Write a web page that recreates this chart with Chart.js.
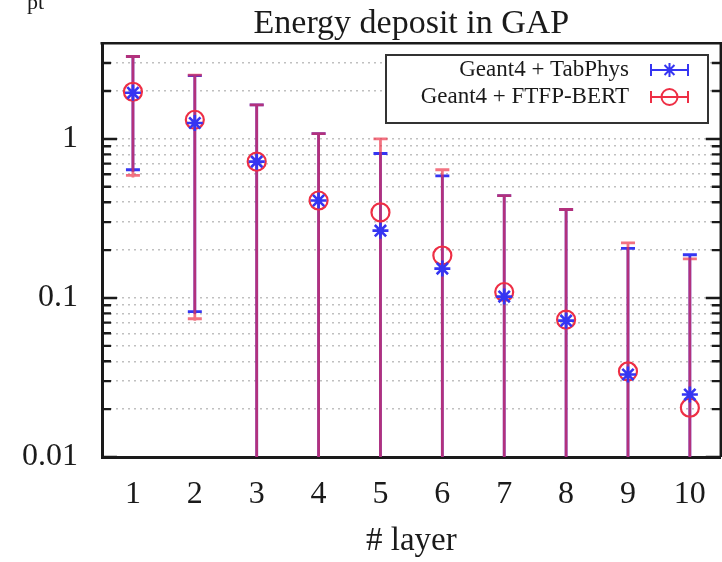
<!DOCTYPE html>
<html>
<head>
<meta charset="utf-8">
<title>Energy deposit in GAP</title>
<script src="https://cdn.jsdelivr.net/npm/chart.js@4.4.0/dist/chart.umd.min.js"></script>
<style>
  html, body { margin: 0; padding: 0; background: #fff; overflow: hidden; }
  #wrap { width: 722px; height: 562px; overflow: hidden; position: relative; }
  canvas { display: block; }
</style>
</head>
<body>
<div id="wrap"><canvas id="gapChart" width="732" height="562"></canvas></div>
<script>
(() => {
  'use strict';

  // Layers and mean energy deposit per layer (with error bar ends)
  const layers = [1, 2, 3, 4, 5, 6, 7, 8, 9, 10];

  const tabPhys     = [1.95, 1.26, 0.72, 0.41, 0.265, 0.153, 0.102, 0.072, 0.033, 0.0247];
  const tabPhysHigh = [3.3, 2.5, 1.64, 1.08, 0.81, 0.585, 0.44, 0.36, 0.205, 0.187];
  const tabPhysLow  = [0.64, 0.082, 0, 0, 0, 0, 0, 0, 0, 0];

  const ftfp     = [1.98, 1.32, 0.72, 0.41, 0.345, 0.185, 0.109, 0.073, 0.0345, 0.0204];
  const ftfpHigh = [3.3, 2.52, 1.64, 1.08, 1.0, 0.64, 0.44, 0.36, 0.222, 0.176];
  const ftfpLow  = [0.59, 0.074, 0, 0, 0, 0, 0, 0, 0, 0];

  const yTicks = [0.01, 0.02, 0.03, 0.04, 0.05, 0.06, 0.07, 0.08, 0.09,
                  0.1, 0.2, 0.3, 0.4, 0.5, 0.6, 0.7, 0.8, 0.9,
                  1, 2, 3];
  const yDecades = [0.01, 0.1, 1];

  const BLUE = '#3535f2';
  const RED = '#ee2f45';
  const INK = '#1a1a1a';
  const SERIF = '"Liberation Serif", "DejaVu Serif", serif';

  const points = (vals) => layers.map((x, i) => ({ x, y: vals[i] }));

  // vertical error bars with caps, drawn under the markers
  const errorBars = {
    id: 'errorBars',
    beforeDatasetsDraw(chart) {
      const { ctx, chartArea, scales: { x, y } } = chart;
      ctx.save();
      ctx.beginPath();
      ctx.rect(chartArea.left, chartArea.top, chartArea.right - chartArea.left, chartArea.bottom - chartArea.top);
      ctx.clip();
      ctx.lineWidth = 2.8;
      chart.data.datasets.forEach((ds) => {
        ctx.strokeStyle = ds.borderColor;
        ctx.globalAlpha = ds.barAlpha;
        ds.data.forEach((p, i) => {
          const px = x.getPixelForValue(p.x);
          const hi = y.getPixelForValue(ds.errHigh[i]);
          const lo = y.getPixelForValue(Math.max(ds.errLow[i], y.min));
          ctx.beginPath();
          ctx.moveTo(px, hi);
          ctx.lineTo(px, lo + 2);
          ctx.moveTo(px - 7, hi);
          ctx.lineTo(px + 7, hi);
          if (ds.errLow[i] > y.min) {
            ctx.moveTo(px - 7, lo);
            ctx.lineTo(px + 7, lo);
          }
          ctx.stroke();
        });
      });
      ctx.restore();
    }
  };

  // top frame line, inward ticks on both sides, key box and title
  const frame = {
    id: 'frame',
    afterDatasetsDraw(chart) {
      const { ctx, chartArea, scales: { y } } = chart;
      const { left, right, top } = chartArea;
      ctx.save();
      ctx.strokeStyle = INK;
      ctx.lineWidth = 2.5;
      ctx.beginPath();
      ctx.moveTo(left - 1.5, top);
      ctx.lineTo(right, top);
      ctx.lineTo(right, chartArea.bottom);
      ctx.stroke();

      ctx.lineWidth = 2.4;
      yTicks.forEach((v) => {
        const py = y.getPixelForValue(v);
        const len = yDecades.includes(v) ? 15 : 9;
        ctx.beginPath();
        ctx.moveTo(left, py);
        ctx.lineTo(left + len, py);
        ctx.moveTo(right, py);
        ctx.lineTo(right - len, py);
        ctx.stroke();
      });

      // key
      const box = { x: 386, y: 55, w: 322, h: 68 };
      ctx.fillStyle = '#fff';
      ctx.fillRect(box.x, box.y, box.w, box.h);
      ctx.strokeStyle = '#333';
      ctx.lineWidth = 2;
      ctx.strokeRect(box.x, box.y, box.w, box.h);

      ctx.font = '23px ' + SERIF;
      ctx.textAlign = 'right';
      ctx.textBaseline = 'middle';
      chart.data.datasets.forEach((ds, i) => {
        const ry = 70 + i * 27;
        ctx.fillStyle = INK;
        ctx.fillText(ds.label, 629, ry);
        ctx.strokeStyle = ds.borderColor;
        ctx.lineWidth = 2;
        ctx.beginPath();
        ctx.moveTo(651, ry);
        ctx.lineTo(688, ry);
        ctx.moveTo(651, ry - 6);
        ctx.lineTo(651, ry + 6);
        ctx.moveTo(688, ry - 6);
        ctx.lineTo(688, ry + 6);
        ctx.stroke();
        ctx.fillStyle = ds.backgroundColor;
        Chart.helpers.drawPoint(ctx, {
          pointStyle: ds.pointStyle,
          radius: ds.pointRadius - 1,
          borderWidth: ds.pointBorderWidth
        }, 669.5, ry);
      });
      ctx.restore();
    },
    afterDraw(chart) {
      const { ctx, chartArea } = chart;
      ctx.save();
      ctx.fillStyle = INK;
      ctx.textAlign = 'center';
      ctx.textBaseline = 'alphabetic';
      ctx.font = '34px ' + SERIF;
      ctx.fillText('Energy deposit in GAP', (chartArea.left + chartArea.right) / 2, 33);

      // axis label from the panel above, mostly cut off by the top edge
      ctx.textAlign = 'left';
      ctx.font = '33px ' + SERIF;
      ctx.fillText('E', 0, -1);
      ctx.font = '22px ' + SERIF;
      ctx.fillText('pt', 27, 9);
      ctx.font = '33px ' + SERIF;
      ctx.fillText('~ 50', 62, -1);
      ctx.restore();
    }
  };

  const tickFont = { family: SERIF, size: 32 };

  new Chart(document.getElementById('gapChart'), {
    type: 'scatter',
    data: {
      datasets: [
        {
          label: 'Geant4 + TabPhys',
          data: points(tabPhys),
          errHigh: tabPhysHigh,
          errLow: tabPhysLow,
          barAlpha: 1,
          borderColor: BLUE,
          backgroundColor: BLUE,
          pointStyle: 'star',
          pointRadius: 8,
          pointBorderWidth: 2.6,
        },
        {
          label: 'Geant4 + FTFP-BERT',
          data: points(ftfp),
          errHigh: ftfpHigh,
          errLow: ftfpLow,
          barAlpha: 0.68,
          borderColor: RED,
          backgroundColor: 'rgba(0,0,0,0)',
          pointStyle: 'circle',
          pointRadius: 9,
          pointBorderWidth: 2.2,
        },
      ],
    },
    options: {
      responsive: false,
      animation: false,
      events: [],
      layout: { padding: { top: 40, right: 6, left: 0, bottom: 0 } },
      plugins: {
        legend: { display: false },
        tooltip: { enabled: false },
      },
      scales: {
        x: {
          type: 'linear',
          min: 0.5,
          max: 10.5,
          afterBuildTicks: (s) => { s.ticks = layers.map((v) => ({ value: v })); },
          afterFit: (s) => {
            s.height = 105;
            // the last label may run past the edge, keep the plot width fixed
            s.paddingLeft = 0;
            s.paddingRight = 0;
          },
          grid: { display: false, drawTicks: false },
          border: { display: true, color: INK, width: 3 },
          ticks: { font: tickFont, color: INK, padding: 18, autoSkip: false },
          title: {
            display: true,
            text: '# layer',
            font: { family: SERIF, size: 33 },
            color: INK,
            padding: { top: 0, bottom: 1 },
          },
        },
        y: {
          type: 'logarithmic',
          min: 0.01,
          max: 4,
          afterBuildTicks: (s) => { s.ticks = yTicks.map((v) => ({ value: v })); },
          afterFit: (s) => { s.width = 102; },
          grid: { color: 'rgba(150,150,150,0.6)', lineWidth: 1.5, drawTicks: false },
          border: { display: true, color: INK, width: 3, dash: [2, 4] },
          ticks: {
            font: tickFont,
            color: INK,
            padding: 24,
            autoSkip: false,
            callback: (v) => (yDecades.includes(v) ? String(v) : ''),
          },
        },
      },
    },
    plugins: [errorBars, frame],
  });
})();
</script>
</body>
</html>
